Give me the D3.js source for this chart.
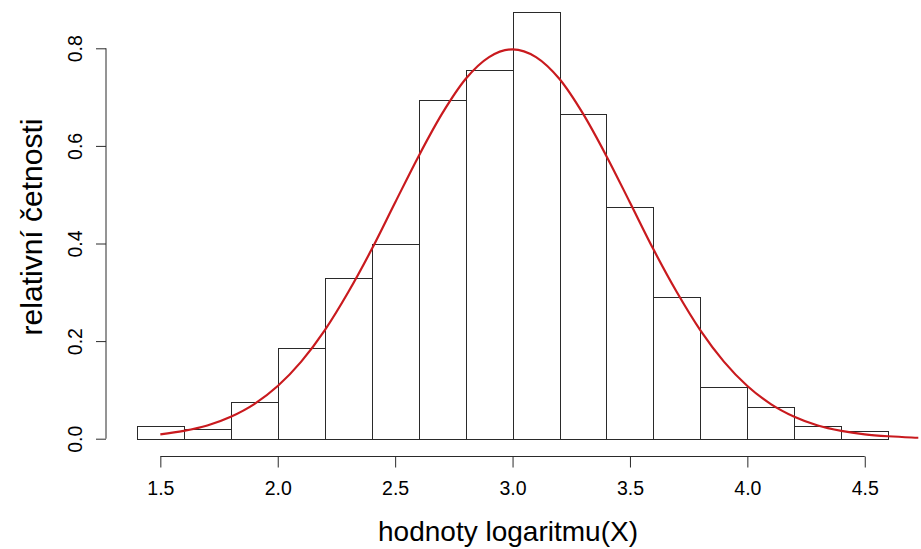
<!DOCTYPE html>
<html>
<head>
<meta charset="utf-8">
<script src="https://cdn.jsdelivr.net/npm/d3@7"></script>
<style>
  html, body { margin: 0; padding: 0; background: #fff; }
  svg { display: block; }
  text { font-family: Arial, "Liberation Sans", Helvetica, sans-serif; fill: #000; }
</style>
</head>
<body>
<svg id="chart" width="921" height="549"></svg>
<script>
// ---- data ----
const binEdges = [1.4, 1.6, 1.8, 2.0, 2.2, 2.4, 2.6, 2.8, 3.0, 3.2, 3.4, 3.6, 3.8, 4.0, 4.2, 4.4, 4.6];
const densities = [0.025, 0.02, 0.075, 0.185, 0.33, 0.4, 0.695, 0.755, 0.875, 0.665, 0.475, 0.29, 0.105, 0.065, 0.025, 0.015];
const curveX = [1.5, 1.6, 1.7, 1.8, 1.9, 2.0, 2.1, 2.2, 2.3, 2.4, 2.5, 2.6, 2.7, 2.8, 2.9, 3.0,
                3.1, 3.2, 3.3, 3.4, 3.5, 3.6, 3.7, 3.8, 3.9, 4.0, 4.1, 4.2, 4.3, 4.4, 4.5, 4.6, 4.7, 4.8];
const curveY = [0.009, 0.016, 0.027, 0.045, 0.071, 0.108, 0.158, 0.222, 0.300, 0.388, 0.484, 0.579, 0.666, 0.737, 0.782, 0.798,
                0.782, 0.737, 0.666, 0.579, 0.484, 0.388, 0.300, 0.222, 0.158, 0.108, 0.071, 0.045, 0.027, 0.016, 0.009, 0.005, 0.0025, 0.001];
const xTicks = [1.5, 2.0, 2.5, 3.0, 3.5, 4.0, 4.5];
const yTicks = [0.0, 0.2, 0.4, 0.6, 0.8];
const xLabel = "hodnoty logaritmu(X)";
const yLabel = "relativní četnosti";

// ---- layout ----
const svg = d3.select("#chart");
const plotLeft = 106.8, plotRight = 918.3;
const xMin = binEdges[0], xMax = binEdges[binEdges.length - 1];
const ext = (xMax - xMin) * 0.04;
const x = d3.scaleLinear().domain([xMin - ext, xMax + ext]).range([plotLeft, plotRight]);
const y = d3.scaleLinear().domain([0, 0.8]).range([438.7, 48.3]);

const xAxisY = 456.5;
const yAxisX = 106;

// clip for plot region
svg.append("clipPath").attr("id", "plotclip")
  .append("rect").attr("x", plotLeft).attr("y", 0)
  .attr("width", plotRight - plotLeft).attr("height", 460);

// bars
const bars = densities.map((d, i) => ({ x0: binEdges[i], x1: binEdges[i + 1], v: d }));
svg.append("g").selectAll("rect").data(bars).join("rect")
  .attr("x", d => Math.round(x(d.x0)) + 0.5)
  .attr("y", d => Math.round(y(d.v)) + 0.5)
  .attr("width", d => Math.round(x(d.x1)) - Math.round(x(d.x0)))
  .attr("height", d => Math.round(y(0)) - Math.round(y(d.v)))
  .attr("fill", "none")
  .attr("stroke", "#2a2a2a")
  .attr("stroke-width", 1);

// density curve
const line = d3.line().x((d, i) => x(curveX[i])).y(d => y(d)).curve(d3.curveMonotoneX);
svg.append("path").datum(curveY)
  .attr("clip-path", "url(#plotclip)")
  .attr("d", line)
  .attr("fill", "none")
  .attr("stroke", "#c91a1e")
  .attr("stroke-width", 2.2)
  .attr("stroke-linejoin", "round");

// x axis
const gx = svg.append("g").attr("transform", `translate(0,${xAxisY})`)
  .call(d3.axisBottom(x).tickValues(xTicks).tickFormat(d3.format(".1f")).tickSize(11).tickPadding(14).tickSizeOuter(0));
gx.select(".domain").attr("d", `M${x(xTicks[0])},0H${x(xTicks[xTicks.length - 1])}`);
gx.selectAll("path, line").attr("stroke", "#2a2a2a");
gx.selectAll("text").style("font-size", "19.5px").attr("fill", "#000");

// y axis
const gy = svg.append("g").attr("transform", `translate(${yAxisX},0)`)
  .call(d3.axisLeft(y).tickValues(yTicks).tickFormat(d3.format(".1f")).tickSize(10).tickSizeOuter(0));
gy.select(".domain").attr("d", `M0,${y(yTicks[0])}V${y(yTicks[yTicks.length - 1])}`);
gy.selectAll("path, line").attr("stroke", "#2a2a2a");
gy.selectAll("text")
  .style("font-size", "19.5px")
  .attr("x", 0).attr("y", -24.5).attr("dy", null)
  .attr("transform", "rotate(-90)")
  .attr("text-anchor", "middle");

// axis titles
svg.append("text")
  .attr("x", 508).attr("y", 541)
  .attr("text-anchor", "middle")
  .style("font-size", "28px")
  .text(xLabel);

svg.append("text")
  .attr("transform", `translate(42,227) rotate(-90)`)
  .attr("text-anchor", "middle")
  .style("font-size", "30px")
  .text(yLabel);
</script>
</body>
</html>
